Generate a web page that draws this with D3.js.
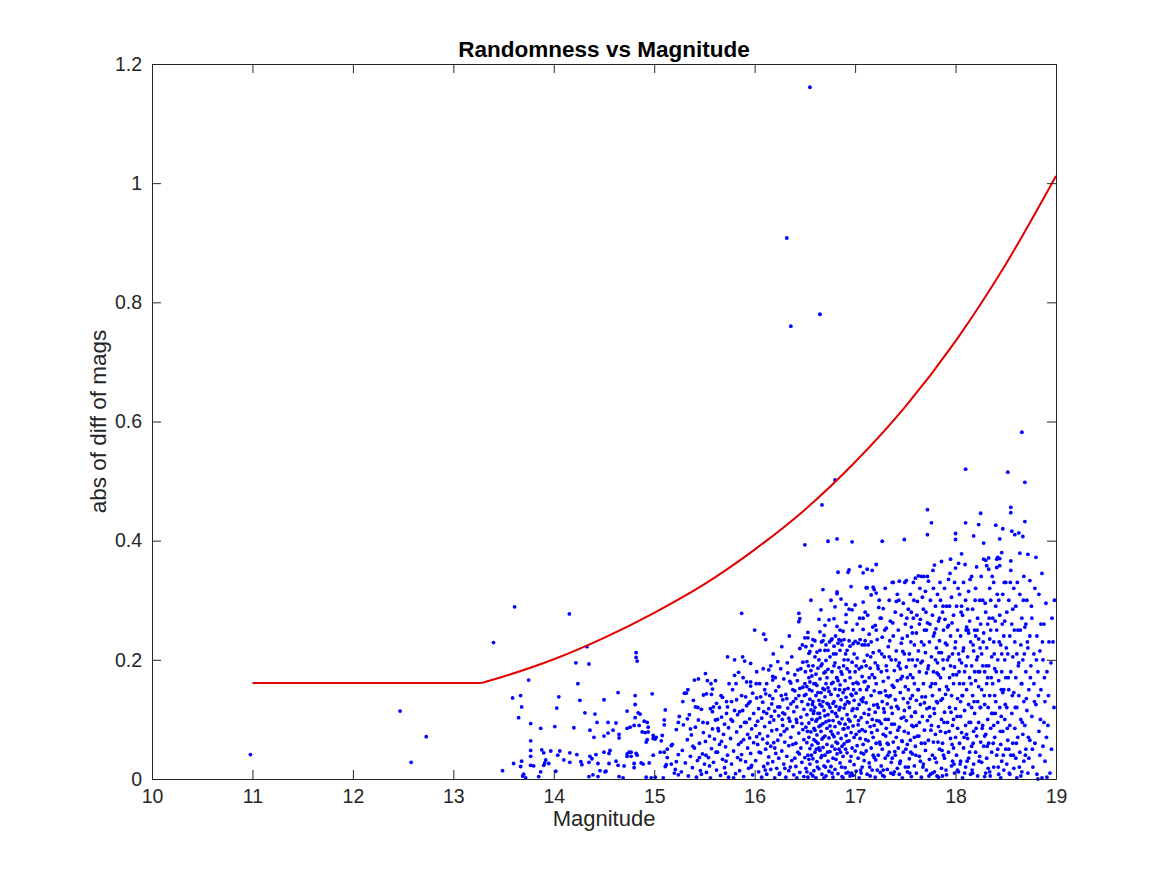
<!DOCTYPE html>
<html>
<head>
<meta charset="utf-8">
<script src="https://cdn.jsdelivr.net/npm/d3@7"></script>
<style>
  body { margin: 0; background: #fff; }
  svg { display: block; font-family: "Liberation Sans", Arial, Helvetica, sans-serif; }
</style>
</head>
<body>
<div id="chart"></div>
<script>
// axis ticks
const xTicks = [10, 11, 12, 13, 14, 15, 16, 17, 18, 19];
const yTicks = [0, 0.2, 0.4, 0.6, 0.8, 1, 1.2];
const yTickLabels = ['0', '0.2', '0.4', '0.6', '0.8', '1', '1.2'];

// red cut-off curve
const cutMag  = [11, 13.28, 13.5, 14, 14.5, 15, 15.5, 16, 16.5, 17, 17.5, 18, 18.5, 19];
const cutDiff = [0.161, 0.161, 0.172, 0.201, 0.237, 0.279, 0.327, 0.385, 0.452, 0.532, 0.625, 0.735, 0.864, 1.012];
const cutKnee = 13.28;

// scattered stars [magnitude, abs diff] - outliers first
const outliers = [[10.98,.041],[12.47,.114],[12.58,.028],[12.73,.071],[16.32,.908],[16.36,.760],[16.55,1.161],
  [16.65,.780],[16.80,.502],[16.67,.460],[16.50,.393]];

// 13.3 - 15.25 (sparse part)
const starsBright = [[13.61,.289],[14.155,.277],[13.40,.229],[14.33,.222],[14.82,.212],[14.82,.204],[14.83,.198],
  [14.22,.195],[14.35,.193],[13.75,.166],[14.24,.160],[13.59,.136],[13.67,.140],[14.05,.138],[14.64,.145],[14.81,.140],
  [14.98,.143],[13.68,.121],[14.26,.132],[14.50,.133],[14.03,.119],[14.81,.125],[13.65,.103],[14.31,.111],[14.41,.109],
  [14.73,.114],[14.84,.111],[14.86,.109],[14.81,.103],[15.11,.116],[15.25,.105],[13.77,.093],[13.87,.085],[14.01,.088],
  [14.20,.086],[14.36,.082],[14.43,.095],[14.40,.070],[14.54,.095],[14.62,.094],[14.54,.077],[14.59,.082],[14.50,.072],
  [14.65,.075],[14.65,.069],[14.73,.085],[14.76,.087],[14.80,.090],[14.85,.090],[14.90,.097],[14.93,.095],[14.94,.087],
  [14.94,.079],[14.93,.066],[14.92,.062],[14.99,.073],[15.02,.070],[14.99,.068],[15.01,.067],[15.08,.073],[15.07,.064],
  [15.10,.091],[15.10,.099],[15.24,.095],[15.22,.083],[13.77,.064],[13.77,.048],[13.88,.049],[13.90,.044],[13.92,.032],
  [13.91,.027],[13.95,.026],[13.90,.023],[13.97,.047],[14.06,.047],[14.04,.040],[13.77,.038],[13.80,.022],[13.77,.023],
  [13.68,.030],[13.67,.021],[13.60,.026],[13.70,.008],[13.69,.005],[13.49,.014],[13.87,.012],[14.02,.013],[14.10,.032],
  [14.16,.044],[14.16,.028],[14.23,.041],[14.27,.029],[14.28,.024],[14.36,.038],[14.38,.034],[14.35,.028],[14.42,.041],
  [14.35,.004],[14.39,.007],[14.44,.004],[14.44,.026],[14.46,.014],[14.51,.012],[14.52,.013],[14.50,.045],[14.55,.043],
  [14.56,.048],[14.55,.026],[14.62,.030],[14.64,.023],[14.65,.004],[14.69,.002],[14.70,.022],[14.73,.042],[14.75,.045],
  [14.73,.038],[14.77,.045],[14.77,.038],[14.82,.043],[14.83,.040],[14.80,.026],[14.80,.019],[14.87,.027],[14.89,.025],
  [14.95,.027],[14.99,.040],[15.06,.045],[15.10,.045],[15.13,.050],[15.17,.056],[15.18,.058],[15.12,.024],[15.17,.025],
  [15.21,.016],[15.20,.010],[15.24,.007],[15.24,.041],[15.22,.029],[14.92,.003],[14.97,.002],[15.01,.003],[15.09,.002],
  [15.13,.036],[15.11,.021],[14.88,.079],[14.91,.078],[13.72,.002],[13.85,.004]];

// 15.25 - 16.5
const starsMid = [[15.27,.012],[15.28,.048],[15.29,.091],[15.30,.144],[15.31,.027],[15.32,.144],[15.33,.066],[15.34,.005],
  [15.35,.108],[15.36,.038],[15.37,.074],[15.38,.019],[15.39,.132],[15.40,.166],[15.40,.052],[15.41,.087],[15.42,.003],
  [15.43,.031],[15.44,.168],[15.44,.099],[15.45,.060],[15.46,.014],[15.47,.117],[15.48,.042],[15.49,.141],[15.49,.078],
  [15.50,.025],[15.41,.121],[15.36,.084],[15.47,.008],[15.33,.101],[15.45,.036],
  [15.51,.177],[15.51,.063],[15.52,.143],[15.52,.011],[15.53,.165],[15.53,.094],[15.54,.036],[15.55,.072],[15.56,.118],
  [15.56,.002],[15.57,.142],[15.57,.051],[15.58,.113],[15.58,.084],[15.59,.121],[15.59,.028],[15.60,.067],[15.61,.165],
  [15.61,.099],[15.62,.127],[15.62,.015],[15.63,.045],[15.64,.081],[15.65,.120],[15.65,.058],[15.66,.006],[15.67,.104],
  [15.68,.137],[15.68,.033],[15.69,.075],[15.70,.092],[15.70,.019],[15.71,.054],[15.72,.130],[15.72,.110],[15.73,.121],
  [15.73,.205],[15.73,.040],[15.74,.086],[15.74,.003],[15.55,.022],[15.63,.100],[15.67,.063],[15.58,.151],[15.71,.010],
  [15.76,.068],[15.77,.130],[15.77,.025],[15.78,.097],[15.79,.047],[15.80,.200],[15.80,.174],[15.80,.115],[15.81,.009],
  [15.82,.079],[15.83,.108],[15.83,.036],[15.84,.179],[15.84,.058],[15.85,.113],[15.85,.014],[15.86,.088],[15.87,.278],
  [15.87,.140],[15.87,.041],[15.88,.115],[15.88,.205],[15.89,.066],[15.89,.004],[15.90,.198],[15.90,.095],[15.91,.029],
  [15.92,.163],[15.92,.123],[15.93,.052],[15.93,.075],[15.94,.127],[15.94,.018],[15.95,.101],[15.96,.163],[15.96,.156],
  [15.96,.194],[15.96,.043],[15.97,.084],[15.98,.144],[15.98,.007],[15.99,.061],[15.99,.110],[15.78,.150],[15.82,.133],
  [15.86,.032],[15.91,.138],[15.95,.069],[15.79,.002],[15.97,.023],
  [16.00,.250],[16.01,.090],[16.01,.031],[16.02,.180],[16.02,.136],[16.03,.058],[16.04,.118],[16.04,.012],[16.05,.076],
  [16.05,.160],[16.06,.044],[16.07,.102],[16.07,.003],[16.08,.129],[16.08,.067],[16.09,.243],[16.09,.021],[16.10,.088],
  [16.10,.150],[16.11,.234],[16.11,.143],[16.11,.050],[16.12,.110],[16.12,.008],[16.13,.072],[16.14,.183],[16.14,.118],
  [16.14,.037],[16.15,.095],[16.15,.140],[16.16,.055],[16.16,.016],[16.17,.126],[16.17,.081],[16.18,.172],[16.18,.166],
  [16.18,.135],[16.18,.029],[16.19,.099],[16.19,.061],[16.20,.002],[16.20,.114],[16.21,.043],[16.21,.148],[16.22,.083],
  [16.22,.018],[16.23,.197],[16.23,.121],[16.23,.065],[16.24,.035],[16.24,.106],[16.03,.097],[16.06,.138],[16.13,.026],
  [16.16,.190],[16.20,.052],[16.09,.113],[16.02,.071],[16.12,.160],[16.24,.155],
  [16.25,.121],[16.25,.010],[16.26,.074],[16.27,.222],[16.27,.047],[16.28,.133],[16.28,.090],[16.29,.025],[16.29,.168],
  [16.30,.062],[16.30,.109],[16.31,.003],[16.31,.142],[16.32,.135],[16.32,.084],[16.32,.038],[16.33,.119],[16.33,.178],
  [16.34,.056],[16.34,.014],[16.35,.164],[16.35,.097],[16.36,.070],[16.36,.126],[16.37,.031],[16.37,.205],[16.38,.150],
  [16.38,.088],[16.39,.007],[16.39,.113],[16.40,.175],[16.40,.148],[16.41,.135],[16.41,.060],[16.41,.021],[16.42,.121],
  [16.42,.095],[16.43,.183],[16.43,.045],[16.44,.278],[16.44,.264],[16.44,.140],[16.44,.077],[16.45,.269],[16.45,.219],
  [16.45,.152],[16.45,.011],[16.46,.185],[16.46,.104],[16.46,.052],[16.47,.130],[16.47,.028],[16.48,.154],[16.48,.083],
  [16.48,.196],[16.49,.066],[16.49,.117],[16.49,.004],[16.50,.237],[16.50,.160],[16.50,.036],[16.26,.185],[16.30,.018],
  [16.34,.102],[16.38,.058],[16.42,.002],[16.36,.161],[16.28,.111],[16.47,.093],[16.40,.035]];

// 16.5 - 17.25 (densest part)
const starsDense = [[16.51,.222],[16.51,.142],[16.51,.087],[16.51,.018],[16.52,.155],[16.52,.108],[16.52,.061],[16.52,.197],
  [16.53,.246],[16.53,.237],[16.53,.125],[16.53,.040],[16.53,.003],[16.54,.211],[16.54,.170],[16.54,.094],[16.54,.070],
  [16.55,.214],[16.55,.134],[16.55,.051],[16.55,.025],[16.56,.182],[16.56,.116],[16.56,.079],[16.56,.009],[16.57,.224],
  [16.57,.148],[16.57,.100],[16.57,.057],[16.58,.234],[16.58,.190],[16.58,.130],[16.58,.034],[16.59,.160],[16.59,.085],
  [16.59,.066],[16.59,.014],[16.60,.232],[16.60,.205],[16.60,.120],[16.60,.045],[16.61,.176],[16.61,.140],[16.61,.097],
  [16.61,.002],[16.62,.213],[16.62,.157],[16.62,.074],[16.62,.029],[16.63,.186],[16.63,.110],[16.63,.060],[16.64,.268],
  [16.64,.200],[16.64,.132],[16.64,.088],[16.64,.017],[16.65,.247],[16.65,.216],[16.65,.168],[16.65,.103],[16.65,.048],
  [16.66,.145],[16.66,.080],[16.66,.036],[16.67,.193],[16.67,.122],[16.67,.067],[16.67,.008],[16.68,.318],[16.68,.232],
  [16.68,.152],[16.68,.093],[16.68,.053],[16.69,.241],[16.69,.178],[16.69,.115],[16.69,.022],[16.70,.258],[16.70,.216],
  [16.70,.138],[16.70,.072],[16.70,.040],[16.71,.199],[16.71,.160],[16.71,.096],[16.71,.005],[16.72,.127],[16.72,.085],
  [16.72,.058],[16.73,.216],[16.73,.399],[16.73,.184],[16.73,.108],[16.73,.030],[16.74,.267],[16.74,.147],[16.74,.069],
  [16.74,.013],[16.75,.205],[16.75,.120],[16.75,.089],[16.75,.046],[16.52,.012],[16.56,.300],[16.60,.082],[16.63,.145],
  [16.66,.190],[16.69,.002],[16.72,.170],[16.55,.163],[16.59,.114],[16.62,.100],[16.67,.039],[16.70,.106],[16.73,.153],
  [16.58,.005],[16.65,.125],[16.71,.225],[16.54,.033],[16.61,.063],[16.68,.130],[16.74,.098],[16.57,.173],[16.64,.052],
  [16.66,.284],
  [16.76,.233],[16.76,.142],[16.76,.080],[16.76,.021],[16.77,.235],[16.77,.180],[16.77,.113],[16.77,.055],[16.78,.162],
  [16.78,.098],[16.78,.035],[16.78,.003],[16.79,.269],[16.79,.223],[16.79,.130],[16.79,.071],[16.80,.289],[16.80,.195],
  [16.80,.151],[16.80,.088],[16.80,.016],[16.81,.210],[16.81,.122],[16.81,.062],[16.82,.314],[16.82,.311],[16.82,.256],
  [16.82,.170],[16.82,.105],[16.82,.403],[16.82,.042],[16.83,.347],[16.83,.228],[16.83,.140],[16.83,.077],[16.83,.009],
  [16.84,.234],[16.84,.187],[16.84,.116],[16.84,.050],[16.85,.250],[16.85,.216],[16.85,.158],[16.85,.093],[16.85,.027],
  [16.86,.302],[16.86,.232],[16.86,.133],[16.86,.068],[16.87,.225],[16.87,.176],[16.87,.101],[16.87,.004],[16.88,.248],
  [16.88,.145],[16.88,.084],[16.88,.038],[16.89,.234],[16.89,.200],[16.89,.119],[16.89,.059],[16.90,.165],[16.90,.092],
  [16.90,.019],[16.91,.293],[16.91,.276],[16.91,.263],[16.91,.137],[16.91,.073],[16.92,.216],[16.92,.185],[16.92,.108],
  [16.92,.044],[16.93,.347],[16.93,.152],[16.93,.086],[16.93,.011],[16.94,.351],[16.94,.285],[16.94,.232],[16.94,.128],
  [16.94,.064],[16.95,.223],[16.95,.170],[16.95,.097],[16.95,.030],[16.96,.323],[16.96,.142],[16.96,.078],[16.97,.398],
  [16.97,.284],[16.97,.196],[16.97,.115],[16.97,.052],[16.98,.227],[16.98,.160],[16.98,.089],[16.98,.006],[16.99,.132],
  [16.99,.070],[16.99,.024],[17.00,.292],[17.00,.231],[17.00,.180],[17.00,.105],[17.00,.047],[16.77,.010],[16.79,.190],
  [16.81,.033],[16.84,.095],[16.86,.180],[16.88,.002],[16.90,.125],[16.92,.063],[16.95,.005],[16.97,.140],[16.99,.210],
  [16.78,.127],[16.80,.050],[16.83,.165],[16.87,.055],[16.89,.084],[16.93,.200],[16.96,.038],[16.98,.118],[16.76,.300],
  [16.85,.120],[16.91,.010],
  [17.01,.144],[17.01,.075],[17.01,.013],[17.02,.203],[17.02,.118],[17.02,.056],[17.03,.228],[17.03,.160],[17.03,.091],
  [17.03,.035],[17.04,.185],[17.04,.125],[17.04,.002],[17.05,.357],[17.05,.234],[17.05,.150],[17.05,.068],[17.06,.103],
  [17.06,.044],[17.07,.225],[17.07,.172],[17.07,.083],[17.07,.020],[17.08,.346],[17.08,.297],[17.08,.270],[17.08,.251],
  [17.08,.136],[17.08,.058],[17.09,.198],[17.09,.110],[17.09,.031],[17.10,.232],[17.10,.164],[17.10,.080],[17.11,.321],
  [17.11,.128],[17.11,.047],[17.12,.352],[17.12,.321],[17.12,.208],[17.12,.095],[17.12,.008],[17.13,.155],[17.13,.064],
  [17.14,.243],[17.14,.117],[17.14,.027],[17.15,.186],[17.15,.088],[17.16,.309],[17.16,.230],[17.16,.140],[17.16,.052],
  [17.17,.350],[17.17,.175],[17.17,.100],[17.17,.015],[17.18,.322],[17.19,.318],[17.18,.212],[17.18,.070],[17.19,.148],
  [17.19,.036],[17.20,.258],[17.20,.195],[17.20,.112],[17.20,.003],[17.21,.360],[17.21,.312],[17.21,.250],[17.21,.160],
  [17.21,.060],[17.22,.234],[17.22,.125],[17.22,.082],[17.23,.185],[17.23,.040],[17.24,.215],[17.24,.145],[17.24,.097],
  [17.25,.270],[17.25,.058],[17.25,.011],[17.02,.260],[17.06,.010],[17.09,.163],[17.13,.225],[17.15,.005],[17.19,.090],
  [17.23,.120],[17.04,.080],[17.11,.190],[17.18,.040],[17.22,.015],[17.14,.170],[17.06,.133],[17.24,.300],[17.10,.280],
  [17.01,.190]];

// 17.25 - 19
const starsFaint = [[17.26,.180],[17.26,.093],[17.26,.022],[17.27,.399],[17.27,.238],[17.27,.130],[17.27,.050],[17.28,.286],
  [17.28,.164],[17.28,.075],[17.29,.205],[17.29,.112],[17.29,.004],[17.30,.320],[17.30,.148],[17.30,.035],[17.31,.253],
  [17.31,.190],[17.31,.085],[17.32,.126],[17.32,.060],[17.32,.016],[17.33,.222],[17.33,.170],[17.33,.100],[17.34,.300],
  [17.34,.045],[17.35,.265],[17.35,.140],[17.35,.078],[17.36,.200],[17.36,.028],[17.37,.330],[17.37,.157],[17.37,.110],
  [17.38,.330],[17.38,.240],[17.38,.062],[17.38,.008],[17.39,.182],[17.39,.092],[17.40,.280],[17.40,.133],[17.40,.040],
  [17.41,.215],[17.41,.070],[17.42,.310],[17.42,.165],[17.42,.018],[17.43,.250],[17.43,.118],[17.43,.052],[17.44,.332],
  [17.44,.195],[17.44,.087],[17.45,.145],[17.45,.030],[17.46,.275],[17.46,.228],[17.46,.102],[17.47,.172],[17.47,.063],
  [17.47,.002],[17.48,.295],[17.48,.135],[17.48,.045],[17.49,.402],[17.49,.210],[17.49,.080],[17.50,.260],[17.50,.155],
  [17.50,.020],[17.28,.015],[17.31,.140],[17.34,.205],[17.36,.120],[17.39,.012],[17.41,.298],[17.45,.185],[17.47,.236],
  [17.33,.058],[17.43,.190],[17.49,.115],[17.26,.270],[17.37,.035],[17.44,.008],[17.30,.100],
  [17.51,.333],[17.51,.188],[17.51,.098],[17.52,.240],[17.52,.058],[17.52,.012],[17.53,.285],[17.53,.150],[17.53,.077],
  [17.54,.210],[17.54,.120],[17.54,.034],[17.55,.310],[17.55,.175],[17.55,.065],[17.56,.255],[17.56,.105],[17.56,.004],
  [17.57,.200],[17.57,.140],[17.57,.042],[17.58,.330],[17.58,.270],[17.58,.088],[17.59,.225],[17.59,.160],[17.59,.022],
  [17.60,.337],[17.60,.190],[17.60,.112],[17.60,.055],[17.61,.245],[17.61,.132],[17.61,.010],[17.62,.298],[17.62,.072],
  [17.63,.341],[17.63,.215],[17.63,.150],[17.64,.180],[17.64,.095],[17.64,.038],[17.65,.268],[17.65,.125],[17.66,.340],
  [17.66,.230],[17.66,.060],[17.66,.003],[17.67,.198],[17.67,.105],[17.68,.285],[17.68,.160],[17.68,.025],[17.69,.250],
  [17.69,.082],[17.70,.315],[17.70,.212],[17.70,.138],[17.70,.048],[17.71,.178],[17.71,.015],[17.72,.452],[17.72,.410],
  [17.72,.340],[17.72,.262],[17.72,.098],[17.73,.332],[17.73,.190],[17.73,.065],[17.74,.230],[17.74,.120],[17.74,.033],
  [17.75,.300],[17.75,.155],[17.75,.008],[17.52,.170],[17.56,.280],[17.59,.070],[17.62,.200],[17.65,.030],[17.69,.128],
  [17.53,.020],[17.57,.245],[17.61,.090],[17.67,.305],[17.71,.250],[17.64,.260],[17.55,.135],
  [17.76,.430],[17.76,.205],[17.76,.090],[17.77,.275],[17.77,.140],[17.77,.040],[17.78,.320],[17.78,.180],[17.78,.062],
  [17.79,.359],[17.79,.245],[17.79,.110],[17.79,.012],[17.80,.290],[17.80,.160],[17.80,.075],[17.81,.220],[17.81,.028],
  [17.82,.310],[17.82,.195],[17.82,.128],[17.83,.265],[17.83,.088],[17.83,.003],[17.84,.232],[17.84,.150],[17.84,.050],
  [17.85,.300],[17.85,.170],[17.86,.365],[17.86,.212],[17.86,.100],[17.86,.018],[17.87,.280],[17.87,.135],[17.87,.060],
  [17.88,.250],[17.88,.185],[17.89,.320],[17.89,.112],[17.89,.035],[17.90,.228],[17.90,.078],[17.91,.290],[17.91,.155],
  [17.91,.007],[17.92,.200],[17.92,.095],[17.93,.335],[17.93,.258],[17.93,.045],[17.94,.170],[17.94,.120],[17.95,.369],
  [17.95,.240],[17.95,.068],[17.96,.305],[17.96,.140],[17.96,.022],[17.97,.210],[17.97,.090],[17.98,.275],[17.98,.160],
  [17.98,.052],[17.99,.330],[17.99,.188],[17.99,.010],[18.00,.412],[18.00,.402],[18.00,.354],[18.00,.230],[18.00,.118],
  [18.00,.070],[17.77,.010],[17.81,.130],[17.84,.270],[17.88,.040],[17.92,.255],[17.97,.030],[17.80,.200],[17.85,.080],
  [17.90,.142],[17.94,.290],[17.98,.100],[17.83,.175],[17.87,.005],[17.95,.190],[17.78,.240],
  [18.01,.290],[18.01,.175],[18.01,.040],[18.02,.250],[18.02,.135],[18.02,.085],[18.03,.362],[18.03,.210],[18.03,.012],
  [18.04,.310],[18.04,.160],[18.04,.060],[18.05,.240],[18.05,.105],[18.05,.030],[18.06,.378],[18.06,.195],[18.06,.078],
  [18.07,.275],[18.07,.140],[18.07,.002],[18.08,.330],[18.08,.220],[18.08,.052],[18.09,.180],[18.09,.115],[18.10,.520],
  [18.10,.430],[18.10,.300],[18.10,.090],[18.10,.020],[18.11,.255],[18.11,.150],[18.12,.205],[18.12,.068],[18.13,.315],
  [18.13,.125],[18.13,.035],[18.14,.265],[18.14,.170],[18.15,.230],[18.15,.095],[18.15,.008],[18.16,.340],[18.16,.190],
  [18.16,.055],[18.17,.285],[18.17,.140],[18.18,.408],[18.18,.215],[18.18,.080],[18.18,.025],[18.19,.250],[18.19,.110],
  [18.20,.320],[18.20,.165],[18.20,.045],[18.21,.356],[18.21,.200],[18.21,.072],[18.22,.270],[18.22,.130],[18.22,.005],
  [18.23,.427],[18.23,.235],[18.23,.095],[18.24,.300],[18.24,.180],[18.24,.038],[18.25,.446],[18.25,.260],[18.25,.120],
  [18.25,.062],[18.02,.015],[18.06,.290],[18.09,.010],[18.12,.285],[18.14,.045],[18.17,.010],[18.20,.240],[18.23,.155],
  [18.04,.200],[18.08,.160],[18.11,.075],[18.16,.120],[18.19,.180],[18.22,.205],[18.13,.245],[18.05,.130],
  [18.26,.210],[18.26,.150],[18.26,.028],[18.27,.300],[18.27,.090],[18.28,.396],[18.28,.369],[18.28,.245],[18.28,.055],
  [18.29,.180],[18.29,.125],[18.29,.004],[18.30,.367],[18.30,.280],[18.30,.075],[18.31,.358],[18.31,.220],[18.31,.160],
  [18.31,.035],[18.32,.260],[18.32,.100],[18.33,.371],[18.33,.352],[18.33,.190],[18.33,.060],[18.34,.235],[18.34,.140],
  [18.34,.012],[18.35,.300],[18.35,.085],[18.36,.205],[18.36,.045],[18.37,.270],[18.37,.160],[18.37,.110],[18.38,.330],
  [18.38,.230],[18.38,.020],[18.39,.185],[18.39,.070],[18.40,.426],[18.40,.290],[18.40,.130],[18.41,.369],[18.41,.355],
  [18.41,.250],[18.41,.040],[18.42,.372],[18.42,.200],[18.42,.095],[18.43,.165],[18.43,.008],[18.44,.403],[18.44,.370],
  [18.44,.358],[18.44,.275],[18.44,.120],[18.45,.225],[18.45,.058],[18.46,.380],[18.46,.180],[18.46,.030],[18.47,.420],
  [18.47,.310],[18.47,.145],[18.47,.080],[18.48,.240],[18.48,.015],[18.49,.200],[18.49,.100],[18.50,.330],[18.50,.170],
  [18.50,.050],[18.27,.190],[18.30,.010],[18.32,.170],[18.35,.250],[18.39,.140],[18.43,.300],[18.46,.210],[18.49,.265],
  [18.29,.072],[18.36,.110],[18.42,.050],[18.48,.150],[18.34,.320],[18.38,.090],[18.45,.002],
  [18.51,.280],[18.51,.120],[18.51,.025],[18.52,.515],[18.52,.210],[18.52,.065],[18.53,.300],[18.53,.150],[18.54,.240],
  [18.54,.090],[18.54,.008],[18.55,.456],[18.55,.447],[18.55,.366],[18.55,.350],[18.55,.180],[18.55,.040],[18.56,.416],
  [18.56,.260],[18.56,.110],[18.57,.205],[18.57,.060],[18.58,.320],[18.58,.145],[18.58,.018],[18.59,.410],[18.59,.230],
  [18.59,.085],[18.60,.290],[18.60,.170],[18.60,.035],[18.61,.120],[18.61,.002],[18.62,.250],[18.62,.070],[18.63,.413],
  [18.63,.195],[18.63,.140],[18.64,.379],[18.64,.310],[18.64,.045],[18.65,.225],[18.65,.100],[18.66,.582],[18.66,.270],
  [18.66,.160],[18.66,.012],[18.67,.407],[18.67,.200],[18.67,.075],[18.68,.340],[18.68,.130],[18.68,.030],[18.69,.498],
  [18.69,.432],[18.69,.255],[18.69,.090],[18.70,.180],[18.70,.050],[18.71,.300],[18.71,.115],[18.72,.377],[18.72,.220],
  [18.72,.010],[18.73,.150],[18.74,.333],[18.74,.240],[18.74,.065],[18.75,.190],[18.53,.050],[18.57,.285],[18.61,.210],
  [18.65,.005],[18.70,.260],[18.73,.035],
  [18.76,.270],[18.76,.105],[18.77,.020],[18.78,.210],[18.78,.160],[18.79,.060],[18.80,.372],[18.80,.125],[18.81,.240],
  [18.81,.008],[18.82,.180],[18.83,.310],[18.83,.080],[18.84,.040],[18.85,.260],[18.85,.150],[18.86,.345],[18.86,.002],
  [18.87,.200],[18.88,.095],[18.89,.130],[18.89,.030],[18.90,.295],[18.91,.180],[18.92,.090],[18.93,.230],[18.94,.010],
  [18.95,.195],[18.97,.230],[18.98,.120],[18.79,.320],[18.84,.215],[18.87,.055],[18.91,.003],[18.96,.270],[18.82,.000],
  [18.88,.260]];

// more stars in between, filling the crowded parts of the cloud
const starsFill = [[15.285,.130],[15.335,.150],[15.385,.055],[15.435,.120],[15.485,.095],[15.515,.040],[15.565,.160],
  [15.615,.045],[15.665,.140],[15.715,.030],[15.765,.100],[15.815,.160],[15.865,.062],[15.915,.095],[15.965,.020],
  [16.015,.160],[16.045,.045],[16.085,.185],[16.125,.060],[16.165,.105],[16.205,.170],[16.245,.008],[16.265,.140],
  [16.295,.080],[16.325,.195],[16.355,.020],[16.385,.130],[16.415,.100],[16.445,.042],[16.475,.225],[16.495,.140],
  [16.105,.015],[16.185,.210],[16.275,.100],[16.345,.240],[16.425,.165],[15.955,.130],[15.885,.170],[15.745,.160],
  [15.635,.085],
  [16.505,.180],[16.525,.080],[16.545,.150],[16.565,.040],[16.585,.110],[16.605,.160],[16.625,.020],[16.645,.110],
  [16.665,.230],[16.685,.070],[16.705,.180],[16.725,.045],[16.745,.230],[16.765,.160],[16.785,.210],[16.805,.110],
  [16.825,.060],[16.845,.150],[16.865,.020],[16.885,.190],[16.905,.050],[16.925,.130],[16.945,.180],[16.965,.010],
  [16.985,.150],[16.535,.190],[16.575,.125],[16.615,.050],[16.655,.090],[16.695,.150],[16.735,.125],[16.775,.075],
  [16.815,.170],[16.855,.045],[16.895,.150],[16.935,.100],[16.975,.250],[16.705,.020],[16.805,.240],[16.905,.210],
  [17.015,.162],[17.035,.098],[17.045,.270],[17.055,.015],[17.065,.188],[17.075,.130],[17.085,.042],[17.095,.225],
  [17.105,.066],[17.115,.150],[17.125,.275],[17.135,.108],[17.145,.020],[17.155,.205],[17.165,.078],[17.175,.255],
  [17.185,.124],[17.195,.170],[17.205,.032],[17.215,.098],[17.225,.190],[17.235,.288],[17.245,.062],[17.255,.145],
  [17.265,.210],[17.275,.006],[17.285,.118],[17.295,.250],[17.305,.072],[17.315,.182],[17.325,.040],[17.335,.138],
  [17.345,.232],[17.355,.010],[17.365,.092],[17.375,.262],[17.385,.154],[17.395,.046],[17.405,.200],[17.415,.122],
  [17.425,.082],[17.435,.300],[17.445,.026],[17.455,.168],[17.465,.064],[17.475,.214],[17.485,.104],[17.495,.330],
  [17.505,.050],[17.515,.270],
  [17.525,.128],[17.535,.200],[17.545,.010],[17.555,.230],[17.565,.090],[17.575,.170],[17.585,.300],[17.595,.112],
  [17.605,.040],[17.615,.275],[17.625,.150],[17.635,.072],[17.645,.320],[17.655,.195],[17.665,.138],[17.675,.020],
  [17.685,.225],[17.695,.060],[17.705,.280],[17.715,.118],[17.725,.185],[17.735,.005],[17.745,.260],[17.755,.082],
  [17.765,.160],[17.775,.350],[17.785,.118],[17.795,.035],[17.805,.252],[17.815,.178],[17.825,.062],[17.835,.212],
  [17.845,.330],[17.855,.132],[17.865,.048],[17.875,.200],[17.885,.095],[17.895,.268],[17.905,.015],[17.915,.225],
  [17.925,.150],[17.935,.080],[17.945,.345],[17.955,.112],[17.965,.262],[17.975,.175],[17.985,.025],[17.995,.220],
  [17.555,.045],[17.685,.340],[17.745,.105],[17.815,.005],[17.875,.290],[17.935,.205],[17.965,.058],
  [18.015,.105],[18.025,.320],[18.035,.180],[18.045,.025],[18.055,.280],[18.065,.140],[18.075,.215],[18.085,.070],
  [18.095,.360],[18.105,.190],[18.115,.030],[18.125,.250],[18.135,.095],[18.145,.335],[18.155,.160],[18.165,.015],
  [18.175,.225],[18.185,.130],[18.195,.300],[18.205,.085],[18.215,.250],[18.225,.180],[18.235,.030],[18.245,.120],
  [18.255,.340],[18.265,.085],[18.275,.230],[18.285,.140],[18.295,.295],[18.305,.190],[18.315,.055],[18.325,.120],
  [18.335,.270],[18.345,.005],[18.355,.170],[18.365,.340],[18.375,.060],[18.385,.210],[18.395,.110],[18.405,.180],
  [18.415,.310],[18.425,.020],[18.435,.230],[18.445,.080],[18.455,.150],[18.465,.260],[18.475,.040],[18.485,.330],
  [18.495,.125],[18.105,.250],[18.175,.060],[18.245,.220],[18.325,.018],[18.395,.265],[18.455,.105],
  [18.505,.220],[18.515,.085],[18.525,.170],[18.535,.010],[18.545,.330],[18.565,.140],[18.575,.040],[18.585,.250],
  [18.595,.120],[18.605,.060],[18.615,.330],[18.625,.190],[18.635,.020],[18.645,.250],[18.655,.160],[18.665,.095],
  [18.675,.300],[18.685,.210],[18.695,.040],[18.705,.135],[18.715,.230],[18.725,.070],[18.745,.170],[18.755,.290],
  [18.765,.050],[18.785,.130],[18.805,.200],[18.825,.140],[18.845,.100],[18.865,.230],[18.885,.170],[18.905,.070],
  [18.925,.140],[18.955,.050],[18.985,.300]];

class ScatterChart {
    constructor() {
        this.width = 1166;
        this.height = 875;
        this.margin = {top: 64, right: 110, bottom: 96, left: 152};
        this.textColor = '#262626';
    }

    render() {
        const m = this.margin;
        const w = this.width - m.left - m.right;
        const h = this.height - m.top - m.bottom;

        const x = d3.scaleLinear().domain([10, 19]).range([0, w]);
        const y = d3.scaleLinear().domain([0, 1.2]).range([h, 0]);

        const svg = d3.select('#chart')
            .append('svg')
            .attr('width', this.width)
            .attr('height', this.height);

        const g = svg.append('g')
            .attr('transform', 'translate(' + m.left + ',' + m.top + ')');

        // stars
        const stars = outliers.concat(starsBright, starsMid, starsDense, starsFaint, starsFill);
        console.log(`stars: ${stars.length}`);
        g.append('g')
            .selectAll('circle')
            .data(stars)
            .enter()
            .append('circle')
            .attr('cx', d => x(d[0]))
            .attr('cy', d => y(d[1]))
            .attr('r', 1.9)
            .attr('fill', '#0000ff');

        // cut-off line: flat part is straight, the rest is a smooth curve
        const cut = cutMag.map((v, i) => [v, cutDiff[i]]);
        const flatLine = d3.line().x(d => x(d[0])).y(d => y(d[1]));
        const curveLine = d3.line().x(d => x(d[0])).y(d => y(d[1])).curve(d3.curveMonotoneX);
        g.append('path')
            .datum(cut.filter(d => d[0] <= cutKnee))
            .attr('fill', 'none')
            .attr('stroke', '#e00000')
            .attr('stroke-width', 2)
            .attr('d', flatLine);
        g.append('path')
            .datum(cut.filter(d => d[0] >= cutKnee))
            .attr('fill', 'none')
            .attr('stroke', '#e00000')
            .attr('stroke-width', 2)
            .attr('stroke-linejoin', 'round')
            .attr('d', curveLine);

        // axes, ticks pointing in on all four sides (matlab box)
        const tickLen = 9;
        const fmtY = d => yTickLabels[yTicks.indexOf(d)];
        const axes = [
            {gen: d3.axisBottom(x).tickValues(xTicks).tickSizeInner(-tickLen).tickFormat(d3.format('d')), tr: `translate(0,${h})`},
            {gen: d3.axisTop(x).tickValues(xTicks).tickSizeInner(-tickLen).tickFormat(''), tr: 'translate(0,0)'},
            {gen: d3.axisLeft(y).tickValues(yTicks).tickSizeInner(-tickLen).tickFormat(fmtY), tr: 'translate(0,0)'},
            {gen: d3.axisRight(y).tickValues(yTicks).tickSizeInner(-tickLen).tickFormat(''), tr: `translate(${w},0)`}
        ];
        axes.forEach((a, i) => {
            const ax = g.append('g')
                .attr('transform', a.tr)
                .call(a.gen.tickSizeOuter(0).tickPadding(10));
            ax.select('.domain').attr('stroke', this.textColor).attr('stroke-width', 1);
            ax.selectAll('.tick line').attr('stroke', this.textColor).attr('stroke-width', 1);
            ax.selectAll('.tick text')
                .attr('fill', this.textColor)
                .style('font-size', '19.5px')
                .style('font-family', '"Liberation Sans", Arial, sans-serif');
        });

        // title and labels
        svg.append('text')
            .attr('x', m.left + w / 2)
            .attr('y', 57)
            .attr('text-anchor', 'middle')
            .style('font-size', '22.5px')
            .style('font-weight', 'bold')
            .attr('fill', '#000')
            .text('Randomness vs Magnitude');

        svg.append('text')
            .attr('x', m.left + w / 2)
            .attr('y', 826)
            .attr('text-anchor', 'middle')
            .style('font-size', '22px')
            .attr('fill', this.textColor)
            .text('Magnitude');

        svg.append('text')
            .attr('transform', `translate(106,${m.top + h / 2}) rotate(-90)`)
            .attr('text-anchor', 'middle')
            .style('font-size', '22.5px')
            .attr('fill', this.textColor)
            .text('abs of diff of mags');
    }
}

const chart = new ScatterChart();
chart.render();
</script>
</body>
</html>
